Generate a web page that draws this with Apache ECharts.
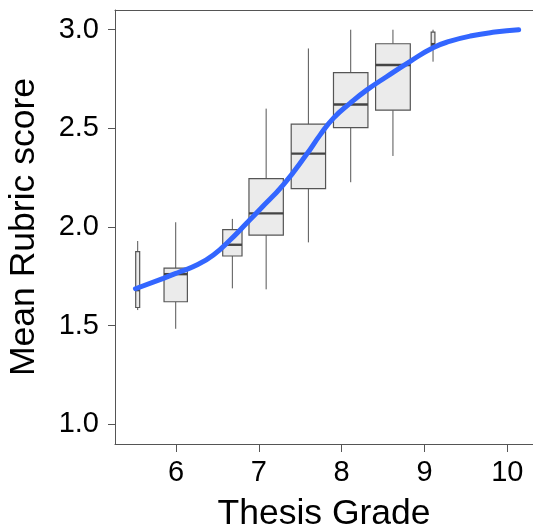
<!DOCTYPE html>
<html>
<head>
<meta charset="utf-8">
<script src="https://cdn.jsdelivr.net/npm/echarts@6/dist/echarts.min.js"></script>
<style>html,body{margin:0;padding:0;background:#fff;}#c{width:533px;height:529px;}</style>
</head>
<body>
<div id="c"></div>
<script>
// Box positions (thesis grade) and five-number summaries
var boxX      = [5.537, 5.996, 6.680, 7.088, 7.598, 8.109, 8.619, 9.103, 10.13];
var boxMin    = [1.579, 1.484, 1.689, 1.684, 1.922, 2.227, 2.360, 2.838, 3.0];
var boxQ1     = [1.592, 1.621, 1.853, 1.959, 2.195, 2.504, 2.592, 2.920, 3.0];
var boxMedian = [1.680, 1.761, 1.910, 2.069, 2.372, 2.621, 2.821, 2.927, 3.0];
var boxQ3     = [1.875, 1.792, 1.987, 2.245, 2.521, 2.783, 2.929, 2.988, 3.0];
var boxMax    = [1.929, 2.024, 2.041, 2.600, 2.905, 3.000, 3.000, 3.000, 3.0];
// relative box widths (varwidth, in grade units)
var boxWidth  = [0.048, 0.282, 0.233, 0.415, 0.415, 0.416, 0.419, 0.045, 0.02];

// smoothed fit
var fitX = [5.51, 5.847, 6.048, 6.25, 6.451, 6.653, 6.854, 7.015, 7.297, 7.579, 7.740, 7.901, 8.103, 8.305, 8.546, 8.828, 9.109, 9.311, 9.553, 9.85, 10.137];
var fitY = [1.687, 1.740, 1.773, 1.807, 1.858, 1.934, 2.020, 2.090, 2.215, 2.370, 2.467, 2.552, 2.628, 2.695, 2.763, 2.840, 2.910, 2.942, 2.968, 2.988, 3.0];

var xTicks = [6, 7, 8, 9, 10];
var yTicks = [1.0, 1.5, 2.0, 2.5, 3.0];

var boxData = boxX.map(function (x, i) {
  return [x, boxMin[i], boxQ1[i], boxMedian[i], boxQ3[i], boxMax[i], boxWidth[i]];
});
var fitData = fitX.map(function (x, i) { return [x, fitY[i]]; });

var FONT = 'Liberation Sans, Arial, sans-serif';
var chart = echarts.init(document.getElementById('c'), null, {renderer: 'canvas'});

chart.setOption({
  animation: false,
  grid: {left: 115, right: 0, top: 10, bottom: 85, containLabel: false, outerBoundsMode: 'none'},
  xAxis: [{
    type: 'value', min: 5.263, max: 10.31,
    name: 'Thesis Grade', nameLocation: 'middle', nameGap: 52,
    nameTextStyle: {fontFamily: FONT, fontSize: 35.5, color: '#000'},
    axisLine: {show: true, onZero: false, lineStyle: {color: '#555', width: 1}},
    axisTick: {show: true, length: 8, lineStyle: {color: '#555'}, customValues: xTicks},
    axisLabel: {fontFamily: FONT, fontSize: 29, color: '#000', margin: 14, customValues: xTicks,
      formatter: function (v) { return String(v); }},
    splitLine: {show: false}
  }, {
    type: 'value', position: 'top', min: 5.263, max: 10.31,
    axisLine: {show: true, onZero: false, lineStyle: {color: '#555', width: 1}},
    axisTick: {show: false}, axisLabel: {show: false}, splitLine: {show: false}
  }],
  yAxis: {
    type: 'value', min: 0.9, max: 3.1,
    name: 'Mean Rubric score', nameLocation: 'middle', nameGap: 73,
    nameTextStyle: {fontFamily: FONT, fontSize: 35.5, color: '#000'},
    axisLine: {show: true, onZero: false, lineStyle: {color: '#555', width: 1}},
    axisTick: {show: true, length: 7, lineStyle: {color: '#555'}, customValues: yTicks},
    axisLabel: {fontFamily: FONT, fontSize: 29, color: '#000', margin: 16, customValues: yTicks,
      formatter: function (v) { return v.toFixed(1); }},
    splitLine: {show: false}
  },
  series: [{
    type: 'custom',
    data: boxData,
    encode: {x: 0, y: [1, 2, 3, 4, 5]},
    renderItem: function (params, api) {
      var x = api.value(0);
      var w = api.size([api.value(6), 0])[0];
      var pMin = api.coord([x, api.value(1)]);
      var pQ1 = api.coord([x, api.value(2)]);
      var pMed = api.coord([x, api.value(3)]);
      var pQ3 = api.coord([x, api.value(4)]);
      var pMax = api.coord([x, api.value(5)]);
      var cx = pMed[0];
      var line = {stroke: '#555', lineWidth: 1};
      return {
        type: 'group',
        children: [
          {type: 'line', shape: {x1: cx, y1: pMax[1], x2: cx, y2: pQ3[1]}, style: line},
          {type: 'line', shape: {x1: cx, y1: pQ1[1], x2: cx, y2: pMin[1]}, style: line},
          {type: 'rect', shape: {x: cx - w / 2, y: pQ3[1], width: w, height: Math.max(pQ1[1] - pQ3[1], 0.5)},
            style: {fill: '#EBEBEB', stroke: '#555', lineWidth: 1.2}},
          {type: 'line', shape: {x1: cx - w / 2, y1: pMed[1], x2: cx + w / 2, y2: pMed[1]},
            style: {stroke: '#444', lineWidth: 2.4}}
        ]
      };
    },
    z: 2
  }, {
    type: 'line',
    data: fitData,
    smooth: 0.5,
    showSymbol: false,
    lineStyle: {color: '#3366FF', width: 5, cap: 'round'},
    z: 5
  }]
});
</script>
</body>
</html>
